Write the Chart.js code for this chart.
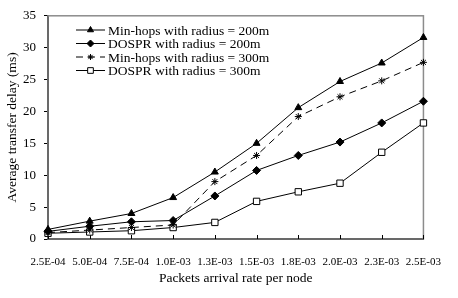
<!DOCTYPE html>
<html>
<head>
<meta charset="utf-8">
<script src="https://cdn.jsdelivr.net/npm/chart.js@4"></script>
<style>
  html, body { margin: 0; padding: 0; background: #fff; }
  #chart { display: block; }
</style>
</head>
<body>
<canvas id="chart" width="458" height="298"></canvas>
<script>
const rates = ['2.5E-04', '5.0E-04', '7.5E-04', '1.0E-03', '1.3E-03', '1.5E-03', '1.8E-03', '2.0E-03', '2.3E-03', '2.5E-03'];
const minHops200 = [1.5, 2.8, 4.0, 6.5, 10.5, 15.0, 20.6, 24.7, 27.6, 31.6];
const dospr200 = [1.2, 2.0, 2.7, 2.9, 6.75, 10.75, 13.1, 15.2, 18.2, 21.6];
const minHops300 = [1.0, 1.4, 1.8, 2.2, 9.0, 13.1, 19.2, 22.3, 24.8, 27.7];
const dospr300 = [0.9, 1.1, 1.3, 1.8, 2.6, 5.9, 7.4, 8.75, 13.6, 18.2];

const serif = '"Liberation Serif", "Times New Roman", serif';

// gray frame on top/right like the Excel plot area, x ticks pointing inward
const frame = {
    id: 'frame',
    beforeDatasetsDraw(chart) {
        const a = chart.chartArea;
        const ctx = chart.ctx;
        const xs = chart.scales.x;
        ctx.save();
        ctx.strokeStyle = '#8c8c8c';
        ctx.lineWidth = 1.5;
        ctx.strokeRect(a.left, a.top, a.right - a.left, a.bottom - a.top);
        ctx.strokeStyle = '#000';
        ctx.lineWidth = 1;
        rates.forEach((r, i) => {
            const px = Math.round(xs.getPixelForValue(i)) + 0.5;
            ctx.beginPath();
            ctx.moveTo(px, a.bottom);
            ctx.lineTo(px, a.bottom - 4);
            ctx.stroke();
        });
        ctx.restore();
    }
};

// legend box drawn inside the plot: line sample with marker in the middle
const innerLegend = {
    id: 'innerLegend',
    afterDraw(chart) {
        const ctx = chart.ctx;
        const x1 = 76, x2 = 105, tx = 108;
        let y = 30;
        ctx.save();
        chart.data.datasets.forEach(ds => {
            ctx.strokeStyle = '#000';
            ctx.lineWidth = 1;
            ctx.setLineDash(ds.borderDash || []);
            ctx.beginPath();
            ctx.moveTo(x1, y);
            ctx.lineTo(x2, y);
            ctx.stroke();
            ctx.setLineDash([]);
            ctx.fillStyle = ds.pointBackgroundColor;
            ctx.strokeStyle = '#000';
            Chart.helpers.drawPoint(ctx, {
                pointStyle: ds.pointStyle,
                radius: ds.pointRadius - 0.5,
                rotation: 0,
                borderWidth: 1
            }, (x1 + x2) / 2, y);
            ctx.fillStyle = '#000';
            ctx.font = '13.5px ' + serif;
            ctx.textBaseline = 'middle';
            ctx.textAlign = 'left';
            ctx.fillText(ds.label, tx, y + 1);
            y += 13.5;
        });
        ctx.restore();
    }
};

new Chart(document.getElementById('chart'), {
    type: 'line',
    data: {
        labels: rates,
        datasets: [{
            label: 'Min-hops with radius = 200m',
            data: minHops200,
            borderColor: '#000',
            borderWidth: 1,
            pointStyle: 'triangle',
            pointRadius: 4,
            pointBackgroundColor: '#000',
            pointBorderColor: '#000'
        }, {
            label: 'DOSPR with radius = 200m',
            data: dospr200,
            borderColor: '#000',
            borderWidth: 1,
            pointStyle: 'rectRot',
            pointRadius: 4,
            pointBackgroundColor: '#000',
            pointBorderColor: '#000'
        }, {
            label: 'Min-hops with radius = 300m',
            data: minHops300,
            borderColor: '#000',
            borderWidth: 1,
            borderDash: [7, 5],
            pointStyle: 'star',
            pointRadius: 3.5,
            pointBackgroundColor: '#000',
            pointBorderColor: '#000'
        }, {
            label: 'DOSPR with radius = 300m',
            data: dospr300,
            borderColor: '#000',
            borderWidth: 1,
            pointStyle: 'rect',
            pointRadius: 4.5,
            pointBackgroundColor: '#fff',
            pointBorderColor: '#000'
        }]
    },
    options: {
        responsive: false,
        animation: false,
        layout: { padding: { top: 6, right: 20, left: 0, bottom: 0 } },
        scales: {
            x: {
                offset: false,
                grid: { drawOnChartArea: false, drawTicks: false },
                border: { display: true, color: '#000', width: 2 },
                ticks: {
                    autoSkip: false,
                    maxRotation: 0,
                    padding: 17,
                    color: '#000',
                    font: { family: serif, size: 11 }
                },
                title: {
                    display: true,
                    text: 'Packets arrival rate per node',
                    color: '#000',
                    font: { family: serif, size: 13.5 },
                    padding: { top: 4, bottom: 11 }
                },
                afterFit: s => { s.height = 59; }
            },
            y: {
                min: 0,
                max: 35,
                grid: { drawOnChartArea: false, drawTicks: true, tickLength: 4, color: '#000' },
                border: { display: true, color: '#000', width: 2 },
                ticks: {
                    stepSize: 5,
                    padding: 8,
                    color: '#000',
                    font: { family: serif, size: 13 }
                },
                title: {
                    display: true,
                    text: 'Average transfer delay (ms)',
                    color: '#000',
                    font: { family: serif, size: 13.5 },
                    padding: { top: 4, bottom: 4 }
                },
                afterFit: s => { s.width = 48; }
            }
        },
        plugins: {
            legend: { display: false },
            tooltip: { enabled: false }
        }
    },
    plugins: [frame, innerLegend]
});
</script>
</body>
</html>
